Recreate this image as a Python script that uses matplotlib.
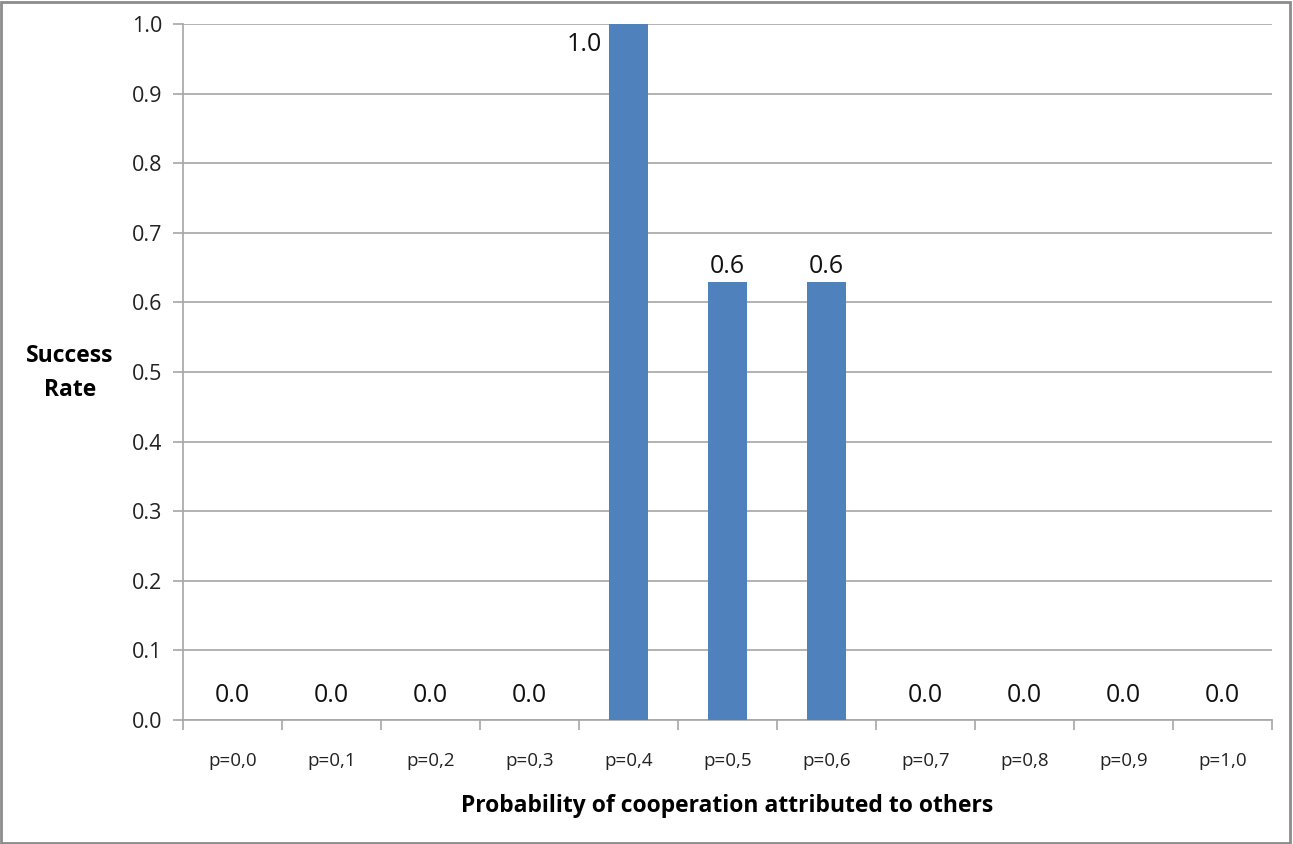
import matplotlib.pyplot as plt
from matplotlib.patches import Rectangle

categories = ["p=0,0", "p=0,1", "p=0,2", "p=0,3", "p=0,4", "p=0,5",
              "p=0,6", "p=0,7", "p=0,8", "p=0,9", "p=1,0"]
success_rate = [0.0, 0.0, 0.0, 0.0, 1.0, 0.63, 0.63, 0.0, 0.0, 0.0, 0.0]
value_labels = ["0.0", "0.0", "0.0", "0.0", "1.0", "0.6", "0.6",
                "0.0", "0.0", "0.0", "0.0"]

BAR = "#4F81BD"
GRID = "#A6A6A6"
FONT = ["Open Sans", "DejaVu Sans"]
plt.rcParams["font.family"] = FONT

fig = plt.figure(figsize=(12.93, 8.44), dpi=100)
ax = fig.add_axes([183 / 1293, 124 / 844, 1089 / 1293, 696 / 844])

x = list(range(len(categories)))
bars = ax.bar(x, success_rate, width=0.40, color=BAR, zorder=3)

ax.set_xlim(-0.5, len(categories) - 0.5)
ax.set_ylim(0, 1.0)
ax.set_yticks([i / 10 for i in range(11)])
ax.set_yticklabels([f"{i / 10:.1f}" for i in range(11)], fontsize=15.5, color="#222222")
ax.grid(axis="y", color=GRID, linewidth=1.2, zorder=0)

# category ticks sit on the boundaries, labels in the middle
ax.set_xticks([i - 0.5 for i in range(len(categories) + 1)])
ax.set_xticklabels([])
ax.set_xticks(x, minor=True)
ax.set_xticklabels(categories, minor=True, fontsize=13.5, color="#222222")
ax.tick_params(axis="x", which="major", length=7, color=GRID, width=1.2)
ax.tick_params(axis="x", which="minor", length=0, pad=23)
ax.tick_params(axis="y", length=7, color=GRID, width=1.2, pad=8)

for s in ("top", "right"):
    ax.spines[s].set_visible(False)
for s in ("left", "bottom"):
    ax.spines[s].set_color(GRID)
    ax.spines[s].set_linewidth(1.2)

for i, b in enumerate(bars):
    v = success_rate[i]
    cx = b.get_x() + b.get_width() / 2
    if v >= 0.99:
        ax.text(b.get_x() - 0.07, v - 0.012, value_labels[i], ha="right", va="top",
                fontsize=18, color="#111111")
    elif v > 0:
        ax.text(cx, v + 0.003, value_labels[i], ha="center", va="bottom",
                fontsize=18, color="#111111")
    else:
        ax.text(cx, v + 0.017, value_labels[i], ha="center", va="bottom",
                fontsize=18, color="#111111")

ax.set_xlabel("Probability of cooperation attributed to others", fontsize=16.5,
              fontweight="bold", labelpad=17)
fig.text(70 / 1293, 1 - 373 / 844, "Success\nRate", ha="center", va="center",
         fontsize=16.5, fontweight="bold", linespacing=1.55)

fig.patches.append(Rectangle((0.001, 0.001), 0.997, 0.997, transform=fig.transFigure,
                             fill=False, edgecolor="#8C8C8C", linewidth=2))

fig.savefig("out.png", dpi=100)
